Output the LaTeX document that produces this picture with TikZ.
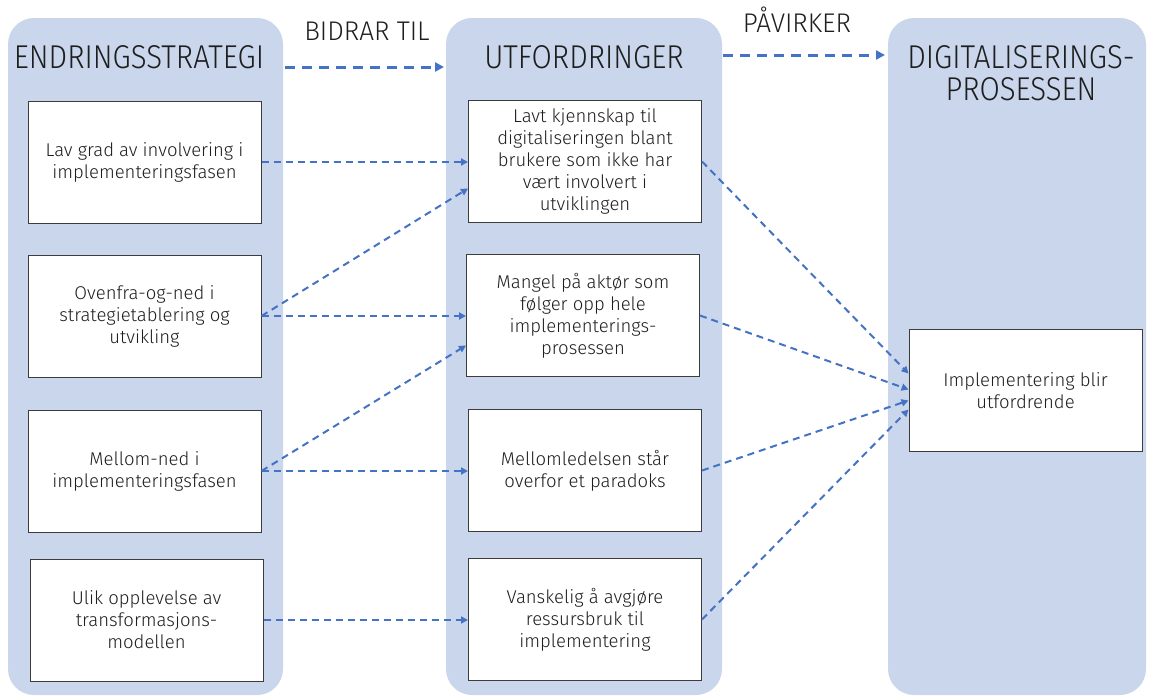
\documentclass[tikz,border=0pt]{standalone}
\usepackage{fontspec}
\setmainfont{Fira Sans Light}
\newfontfamily\headfont{Fira Sans Light}[FakeStretch=0.89]
\newfontfamily\labelfont{Fira Sans Light}[FakeStretch=0.97]
\usetikzlibrary{arrows.meta}

\definecolor{panelblue}{RGB}{201,214,236}
\definecolor{arrowblue}{RGB}{68,114,196}
\definecolor{ink}{RGB}{30,30,30}
\definecolor{boxline}{RGB}{60,60,60}

\newcommand\bodysize{\fontsize{18.5}{22}\selectfont}
\newcommand\headsize{\headfont\fontsize{33}{32}\selectfont}
\newcommand\labelsize{\labelfont\fontsize{27}{30}\selectfont}

\tikzset{
  panel/.style={fill=panelblue, draw=none, rounded corners=26pt},
  stepbox/.style={draw=boxline, line width=1pt, fill=white,
    minimum width=233pt, minimum height=122pt, align=center,
    text=ink, font=\bodysize, inner sep=0pt},
  head/.style={text=ink, font=\headsize, inner sep=0pt, align=center},
  linklabel/.style={text=ink, font=\labelsize, inner sep=0pt},
  link/.style={draw=arrowblue, line width=2pt, dash pattern=on 7pt off 5pt,
    -{Triangle[length=7pt,width=7pt]}},
  bigarrow/.style={draw=arrowblue, line width=3pt, dash pattern=on 10pt off 7pt,
    -{Triangle[length=9pt,width=9pt]}}
}

\begin{document}
\begin{tikzpicture}[x=1pt, y=-1pt]
  \useasboundingbox (0,0) rectangle (1151,696);

  % three columns
  \fill[panel] (8,18) rectangle (283,695);
  \fill[panel] (446,18) rectangle (722,695);
  \fill[panel] (888,18) rectangle (1146,695);

  % column headings
  \node[head, anchor=base] (hl) at (139,68) {ENDRINGSSTRATEGI};
  \node[head, anchor=base] (hm) at (584,68) {UTFORDRINGER};
  \node[head] (hr) at (1021,73) {DIGITALISERINGS-\\PROSESSEN};

  % arrows between the columns
  \coordinate (b1) at (285,67);
  \coordinate (b2) at (444,67);
  \coordinate (p1) at (723,55);
  \coordinate (p2) at (885,55);
  \draw[bigarrow] (b1) -- (b2);
  \draw[bigarrow] (p1) -- (p2);
  \node[linklabel, anchor=base] (lb) at (367,40) {BIDRAR TIL};
  \node[linklabel, anchor=base] (lp) at (797,32) {PÅVIRKER};

  % change strategy
  \node[stepbox] (l1) at (144.5,162) {Lav grad av involvering i\\implementeringsfasen};
  \node[stepbox] (l2) at (144.5,316) {Ovenfra-og-ned i\\strategietablering og\\utvikling};
  \node[stepbox] (l3) at (144.5,471) {Mellom-ned i\\implementeringsfasen};
  \node[stepbox] (l4) at (146.5,620) {Ulik opplevelse av\\transformasjons-\\modellen};

  % challenges
  \node[stepbox] (m1) at (585,161.5) {Lavt kjennskap til\\digitaliseringen blant\\brukere som ikke har\\vært involvert i\\utviklingen};
  \node[stepbox] (m2) at (583,315.5) {Mangel på aktør som\\følger opp hele\\implementerings-\\prosessen};
  \node[stepbox] (m3) at (585,470.5) {Mellomledelsen står\\overfor et paradoks};
  \node[stepbox] (m4) at (585,619.5) {Vanskelig å avgjøre\\ressursbruk til\\implementering};

  % outcome
  \node[stepbox] (r) at (1025.5,390.5) {Implementering blir\\utfordrende};

  % strategy -> challenge
  \draw[link] (l1.east) -- (l1.east -| m1.west);
  \draw[link] (l2.east) -- ([yshift=-27pt]m1.west);
  \draw[link] (l2.east) -- (l2.east -| m2.west);
  \draw[link] (l3.east) -- ([yshift=-30pt]m2.west);
  \draw[link] (l3.east) -- (l3.east -| m3.west);
  \draw[link] (l4.east) -- (l4.east -| m4.west);

  % challenge -> outcome
  \draw[link] (m1.east) -- ([yshift=17pt]r.west);
  \draw[link] (m2.east) -- ([yshift=1pt]r.west);
  \draw[link] (m3.east) -- ([yshift=-10pt]r.west);
  \draw[link] (m4.east) -- ([yshift=-19pt]r.west);
\end{tikzpicture}
\end{document}
